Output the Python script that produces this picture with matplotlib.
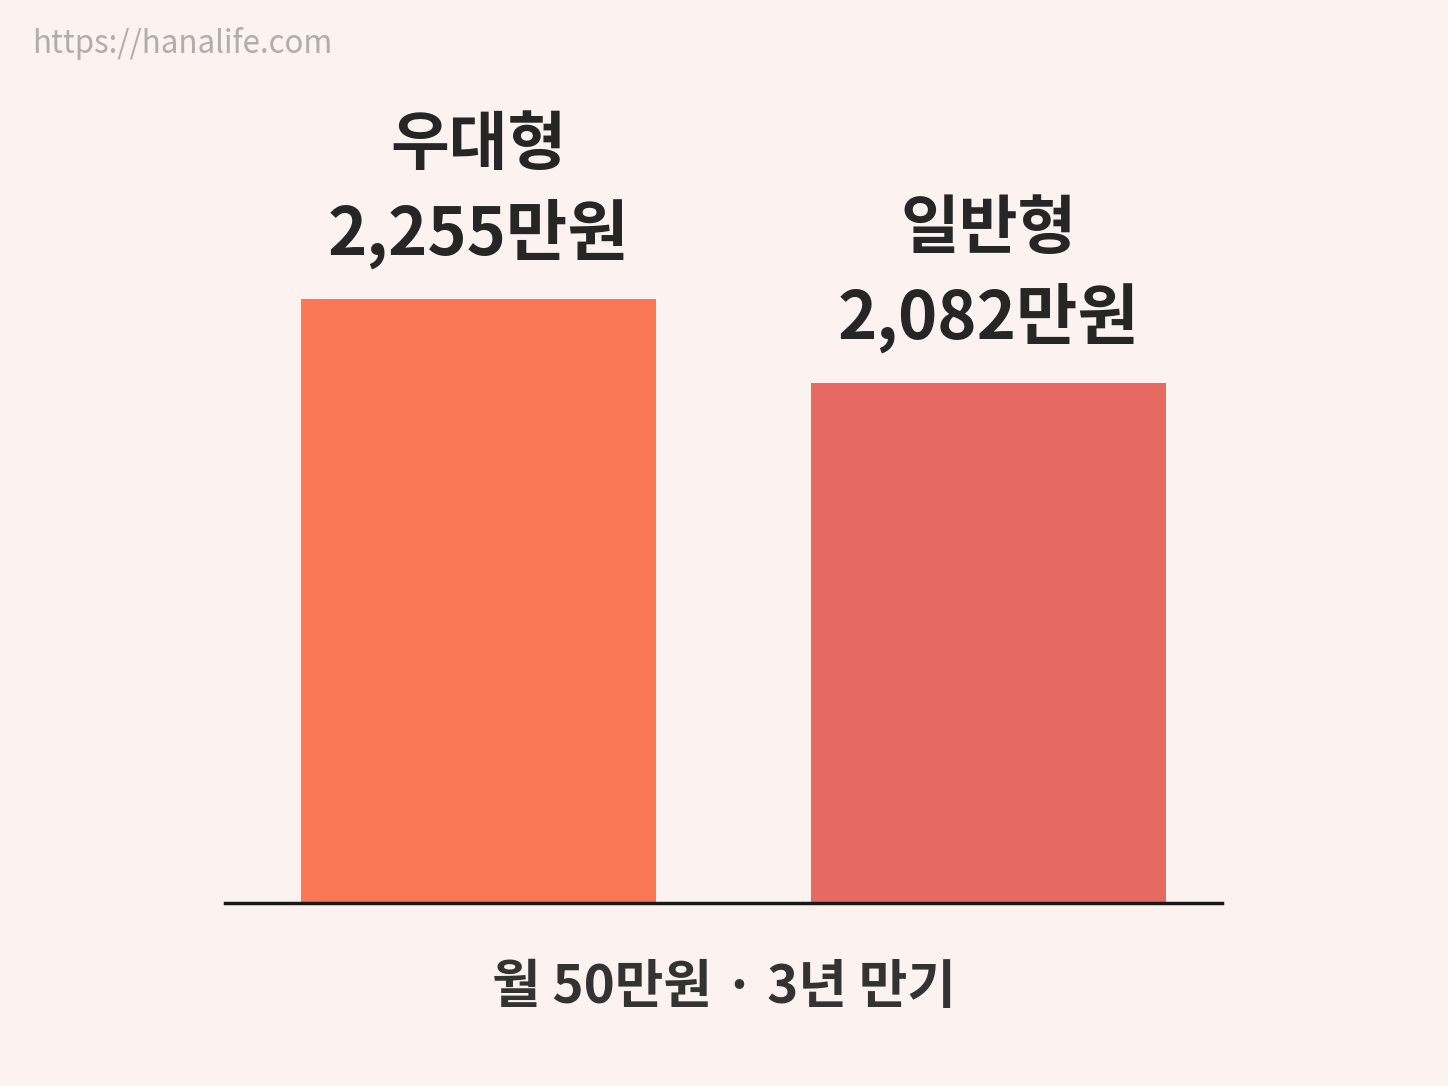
import matplotlib
matplotlib.use("Agg")
import matplotlib.pyplot as plt

plt.rcParams["font.family"] = ["Noto Sans CJK KR", "DejaVu Sans"]

# data
categories = ["우대형", "일반형"]
values = [2255, 2082]
value_labels = ["2,255만원", "2,082만원"]
caption = "월 50만원 · 3년 만기"
watermark = "https://hanalife.com"

BG = "#fcf3f0"
COLORS = ["#fa7856", "#e66a61"]
TEXT = "#262626"

fig = plt.figure(figsize=(14.48, 10.86), dpi=100)
fig.patch.set_facecolor(BG)
ax = fig.add_axes([0.1554, 0.1685, 0.6885, 0.556])
ax.set_facecolor(BG)

x = [0, 1]
ax.bar(x, values, width=0.696, color=COLORS, zorder=2)
ax.set_xlim(-0.497, 1.458)
ax.set_ylim(1013, 2255)

for xi, v, cat, lab in zip(x, values, categories, value_labels):
    ax.annotate(lab, (xi, v), xytext=(0, 47), textcoords="offset points",
                ha="center", va="center", fontsize=48, fontweight="bold", color=TEXT)
    ax.annotate(cat, (xi, v), xytext=(0, 111), textcoords="offset points",
                ha="center", va="center", fontsize=46, fontweight="bold", color=TEXT)

for s in ["top", "right", "left"]:
    ax.spines[s].set_visible(False)
ax.spines["bottom"].set_linewidth(2.5)
ax.spines["bottom"].set_color("#1a1a1a")
ax.spines["bottom"].set_zorder(3)
ax.set_xticks([])
ax.set_yticks([])

fig.text(0.5, 1 - 988 / 1086, caption, ha="center", va="center",
         fontsize=38, fontweight="bold", color="#333333")
fig.text(32 / 1448, 1 - 44 / 1086, watermark, ha="left", va="center",
         fontsize=22.5, fontweight="medium", color="#b3acaa")

fig.savefig("out.png", dpi=100, facecolor=fig.get_facecolor())
